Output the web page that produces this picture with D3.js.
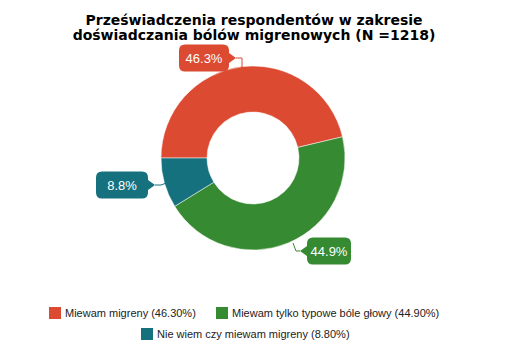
<!DOCTYPE html>
<html><head><meta charset="utf-8">
<script src="https://cdn.jsdelivr.net/npm/d3@7"></script>
<style>body{margin:0;background:#fff}svg{display:block}</style>
</head><body>
<svg id="c" width="508" height="359"></svg>
<script>
const categories = ["Miewam migreny", "Miewam tylko typowe bóle głowy", "Nie wiem czy miewam migreny"];
const values = [46.3, 44.9, 8.8];
const colors = ["#dc4a32", "#368a31", "#15717d"];
const titleLines = ["Przeświadczenia respondentów w zakresie", "doświadczania bólów migrenowych (N =1218)"];

const svg = d3.select("#c");
const cx = 253, cy = 158, R = 92, r = 46;

svg.append("g").selectAll("text").data(titleLines).join("text")
  .attr("x", 254).attr("y", (d,i)=>25+i*15)
  .attr("text-anchor","middle")
  .attr("font-family","DejaVu Sans").attr("font-weight","bold").attr("font-size","14px")
  .attr("fill","#000").text(d=>d);

const pie = d3.pie().sort(null).value(d=>d).startAngle(-Math.PI/2).endAngle(1.5*Math.PI);
const arcs = pie(values);
const arc = d3.arc().innerRadius(r).outerRadius(R);
const g = svg.append("g").attr("transform",`translate(${cx},${cy})`);
g.selectAll("path").data(arcs).join("path").attr("d",arc).attr("fill",(d,i)=>colors[i])
  .attr("stroke","#fff").attr("stroke-width",0.5);

// callout labels: box center offsets relative to center, pointer side
const boxW = [50,44,52], boxH = 27;
const labelPos = [
  {bx:-49, by:-100, side:"right"},
  {bx:76, by:93, side:"left"},
  {bx:-131, by:27, side:"right"}
];
const lg = svg.append("g").attr("transform",`translate(${cx},${cy})`);
arcs.forEach((a,i)=>{
  const mid = (a.startAngle+a.endAngle)/2;
  const p = labelPos[i];
  const w = boxW[i], h = boxH, rr = 6, tip = 7;
  const x0 = p.bx - w/2, y0 = p.by - h/2;
  const ex = (R)*Math.sin(mid), ey = -(R)*Math.cos(mid);
  let tipX, path;
  if (p.side === "right") {
    tipX = x0 + w + tip;
    path = `M${x0+rr},${y0} H${x0+w-rr} Q${x0+w},${y0} ${x0+w},${y0+rr} V${p.by-5} L${tipX},${p.by} L${x0+w},${p.by+5} V${y0+h-rr} Q${x0+w},${y0+h} ${x0+w-rr},${y0+h} H${x0+rr} Q${x0},${y0+h} ${x0},${y0+h-rr} V${y0+rr} Q${x0},${y0} ${x0+rr},${y0} Z`;
  } else {
    tipX = x0 - tip;
    path = `M${x0+rr},${y0} H${x0+w-rr} Q${x0+w},${y0} ${x0+w},${y0+rr} V${y0+h-rr} Q${x0+w},${y0+h} ${x0+w-rr},${y0+h} H${x0+rr} Q${x0},${y0+h} ${x0},${y0+h-rr} V${p.by+5} L${tipX},${p.by} L${x0},${p.by-5} V${y0+rr} Q${x0},${y0} ${x0+rr},${y0} Z`;
  }
  let line;
  if (i===0) line = [[tipX,p.by],[tipX+6,p.by],[tipX+6,p.by+10]];
  else if (i===1) line = [[tipX,p.by],[tipX-4,p.by],[tipX-7,p.by-8]];
  else line = [[tipX,p.by],[tipX+6,p.by],[tipX+14,p.by-3]];
  lg.append("path").attr("d",d3.line()(line)).attr("fill","none").attr("stroke",colors[i]).attr("stroke-width",1);
  lg.append("path").attr("d",path).attr("fill",colors[i]);
  lg.append("text").attr("x",p.bx).attr("y",p.by+5).attr("text-anchor","middle")
    .attr("font-family","Liberation Sans, Arial").attr("font-size","13px").attr("fill","#fff")
    .text(values[i].toFixed(1)+"%");
});

// legend
const legendItems = [
  {x:49, y:307, i:0},
  {x:216, y:307, i:1},
  {x:141, y:328, i:2}
];
const leg = svg.append("g");
legendItems.forEach(it=>{
  leg.append("rect").attr("x",it.x).attr("y",it.y).attr("width",12).attr("height",12).attr("fill",colors[it.i]);
  leg.append("text").attr("x",it.x+16).attr("y",it.y+10)
    .attr("font-family","Liberation Sans, Arial").attr("font-size","11px").attr("fill","#222")
    .text(`${categories[it.i]} (${values[it.i].toFixed(2)}%)`);
});
</script>
</body></html>
